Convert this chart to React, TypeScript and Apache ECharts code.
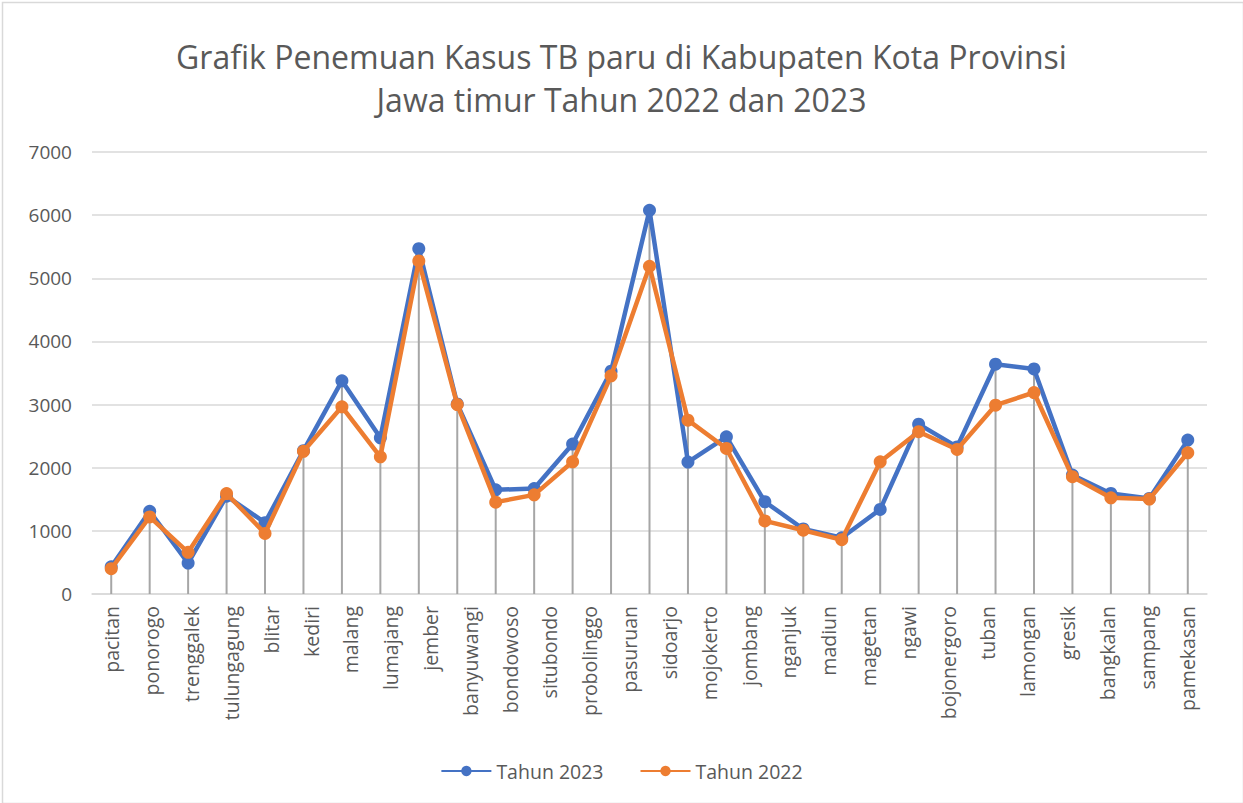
import React, { useEffect, useRef } from "react";
import * as echarts from "echarts";

const categoryLabels = [
  "pacitan", "ponorogo", "trenggalek", "tulungagung", "blitar", "kediri", "malang",
  "lumajang", "jember", "banyuwangi", "bondowoso", "situbondo", "probolinggo", "pasuruan",
  "sidoarjo", "mojokerto", "jombang", "nganjuk", "madiun", "magetan", "ngawi",
  "bojonergoro", "tuban", "lamongan", "gresik", "bangkalan", "sampang", "pamekasan",
];

const tahun2023 = [
  430, 1310, 490, 1550, 1130, 2270, 3376, 2474, 5469, 3010,
  1650, 1670, 2375, 3528, 6076, 2090, 2489, 1461, 1030, 890,
  1340, 2690, 2330, 3639, 3565, 1883, 1593, 1514, 2437,
];

const tahun2022 = [
  400, 1220, 660, 1590, 960, 2260, 2964, 2173, 5274, 3000,
  1455, 1570, 2094, 3455, 5190, 2753, 2305, 1158, 1010, 860,
  2094, 2570, 2289, 2990, 3191, 1857, 1524, 1503, 2236,
];

const yTicks = { min: 0, max: 7000, interval: 1000 };

const BLUE = "#4472C4";
const ORANGE = "#ED7D31";
const TEXT = "#595959";
const FONT = "'Open Sans', 'Noto Sans', sans-serif";

export default function App() {
  const ref = useRef<HTMLDivElement>(null);
  useEffect(() => {
    document.body.style.margin = "0";
    if (!ref.current) return;
    const chart = echarts.init(ref.current, undefined, { renderer: "svg" });
    const slots = tahun2023.map((_, i) => String(i));
    const dropTop = tahun2023.map((v, i) => Math.max(v, tahun2022[i]));
    chart.setOption({
      animation: false,
      backgroundColor: "#ffffff",
      textStyle: { fontFamily: FONT },
      title: {
        text: "Grafik Penemuan Kasus TB paru di Kabupaten Kota Provinsi\nJawa timur Tahun 2022 dan 2023",
        left: "center",
        top: 30,
        textStyle: {
          fontFamily: FONT,
          fontSize: 32,
          fontWeight: "normal",
          color: TEXT,
          lineHeight: 43,
          align: "center",
        },
      },
      graphic: [
        {
          type: "rect",
          left: 0,
          top: 0,
          shape: { width: 1241, height: 801 },
          style: { fill: "none", stroke: "#d9d9d9", lineWidth: 1.5 },
          silent: true,
        },
      ],
      legend: {
        top: 756,
        left: "center",
        itemWidth: 50,
        itemHeight: 13,
        itemGap: 36,
        textStyle: { fontFamily: FONT, fontSize: 19.5, color: TEXT },
        data: ["Tahun 2023", "Tahun 2022"],
      },
      grid: { left: 92, right: 36, top: 152, bottom: 209, containLabel: false },
      xAxis: [
        {
          type: "category",
          data: slots,
          boundaryGap: true,
          axisLine: { show: true, lineStyle: { color: "#d9d9d9", width: 1.5 } },
          axisTick: { show: false },
          axisLabel: { show: false },
        },
        {
          type: "category",
          data: categoryLabels,
          position: "bottom",
          boundaryGap: true,
          axisLine: { show: false },
          axisTick: { show: false },
          axisLabel: {
            rotate: 90,
            margin: 12,
            interval: 0,
            fontFamily: FONT,
            fontSize: 19.5,
            color: TEXT,
          },
        },
      ],
      yAxis: {
        type: "value",
        min: yTicks.min,
        max: yTicks.max,
        interval: yTicks.interval,
        axisLine: { show: false },
        axisTick: { show: false },
        axisLabel: {
          fontFamily: FONT,
          fontSize: 19,
          color: TEXT,
          margin: 20,
          formatter: (v: number) => String(v),
        },
        splitLine: { lineStyle: { color: "#d9d9d9", width: 1.5 } },
      },
      series: [
        {
          name: "drop",
          type: "bar",
          xAxisIndex: 0,
          data: dropTop,
          barWidth: 2,
          itemStyle: { color: "#a6a6a6" },
          silent: true,
          z: 1,
        },
        {
          name: "Tahun 2023",
          type: "line",
          xAxisIndex: 0,
          data: tahun2023,
          symbol: "circle",
          symbolSize: 13,
          lineStyle: { color: BLUE, width: 4.5 },
          itemStyle: { color: BLUE },
          z: 3,
        },
        {
          name: "Tahun 2022",
          type: "line",
          xAxisIndex: 0,
          data: tahun2022,
          symbol: "circle",
          symbolSize: 13,
          lineStyle: { color: ORANGE, width: 4.5 },
          itemStyle: { color: ORANGE },
          z: 4,
        },
      ],
    });
    return () => chart.dispose();
  }, []);
  return <div ref={ref} style={{ width: 1243, height: 803 }} />;
}
